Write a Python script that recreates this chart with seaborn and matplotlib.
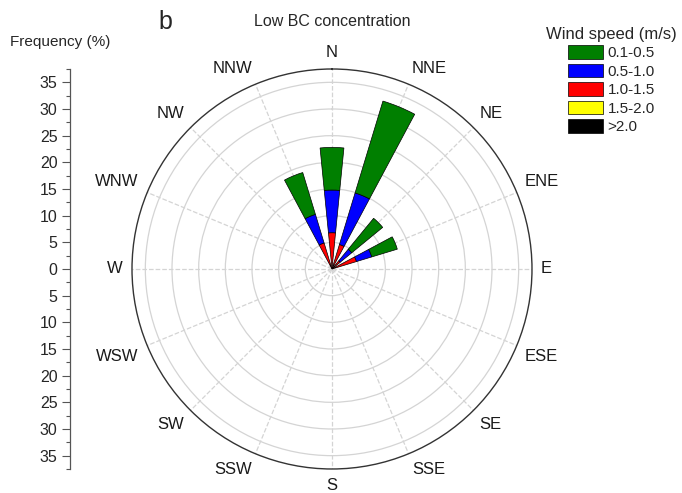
import numpy as np
import matplotlib
matplotlib.use("Agg")
import matplotlib.pyplot as plt
import seaborn as sns
from matplotlib.patches import Patch

# Wind rose data (frequency %, per speed bin)
directions = ["N", "NNE", "NE", "ENE", "E", "ESE", "SE", "SSE",
              "S", "SSW", "SW", "WSW", "W", "WNW", "NW", "NNW"]
speed_bins = ["0.1-0.5", "0.5-1.0", "1.0-1.5", "1.5-2.0", ">2.0"]
bin_colors = ["#007f00", "#0000ff", "#ff0000", "#ffff00", "#000000"]

freq_01_05 = [8.0, 18.0, 7.5, 5.0, 0, 0, 0, 0, 0, 0, 0, 0, 0, 0, 0, 8.2]
freq_05_10 = [8.0, 10.1, 2.8, 3.0, 0, 0, 0, 0, 0, 0, 0, 0, 0, 0, 0, 5.6]
freq_10_15 = [6.8, 4.8, 2.0, 4.8, 0, 0, 0, 0, 0, 0, 0, 0, 0, 0, 0, 5.1]
freq_15_20 = [0, 0, 0, 0, 0, 0, 0, 0, 0, 0, 0, 0, 0, 0, 0, 0]
freq_gt_20 = [0, 0, 0, 0, 0, 0, 0, 0, 0, 0, 0, 0, 0, 0, 0, 0]

freq_ticks = [35, 30, 25, 20, 15, 10, 5, 0, 5, 10, 15, 20, 25, 30, 35]

sns.set_theme(style="white")
plt.rcParams['font.family'] = ['Liberation Sans', 'DejaVu Sans']

fig = plt.figure(figsize=(6.82, 4.93), dpi=100)

# Polar axes for the rose (center ~ (332, 269) px, radius 200 px)
ax = fig.add_axes([0.19355, 0.04868, 0.5865, 0.8114], projection="polar")
ax.set_theta_zero_location("N")
ax.set_theta_direction(-1)

angles = np.deg2rad(np.arange(16) * 22.5)
width = np.deg2rad(11.25)

# stack from the center outwards: >2.0, 1.5-2.0, 1.0-1.5, 0.5-1.0, 0.1-0.5
series = [freq_01_05, freq_05_10, freq_10_15, freq_15_20, freq_gt_20]
bottom = np.zeros(16)
for i in [4, 3, 2, 1, 0]:
    vals = np.array(series[i], dtype=float)
    ax.bar(angles, vals, width=width, bottom=bottom, color=bin_colors[i],
           edgecolor="black", linewidth=0.5, zorder=3)
    bottom += vals

rmax = 37.5
ax.set_rlim(0, rmax)
ax.set_yticks(np.arange(5, 40, 5))
ax.set_yticklabels([])
ax.yaxis.grid(True, color="#d4d4d4", linestyle="-", linewidth=0.9)
ax.set_xticks(angles)
ax.set_xticklabels([])
ax.set_xticks(angles + np.deg2rad(11.25), minor=True)
ax.xaxis.grid(True, color="#d4d4d4", linestyle="--", linewidth=0.9)
ax.tick_params(axis="x", which="major", direction="in", length=5, width=0.8,
               color="#333333")
ax.tick_params(axis="x", which="minor", direction="in", length=3, width=0.8,
               color="#333333")
ax.spines["polar"].set_color("#333333")
ax.spines["polar"].set_linewidth(1.0)

# direction labels anchored by their inner edge just outside the circle
for ang, lab in zip(angles, directions):
    s, c = np.sin(ang), np.cos(ang)
    ha = "left" if s > 0.1 else ("right" if s < -0.1 else "center")
    va = "bottom" if c > 0.1 else ("top" if c < -0.1 else "center")
    ax.text(ang, rmax * 1.045, lab, fontsize=12, ha=ha, va=va,
            clip_on=False, color="#1a1a1a")

# Linear frequency scale at the left
lax = fig.add_axes([70 / 682, 0.04868, 0.001, 0.8114])
lax.set_ylim(-37.5, 37.5)
lax.set_xticks([])
lax.set_yticks(np.arange(35, -40, -5))
lax.set_yticklabels(freq_ticks, fontsize=11.5)
lax.set_yticks(np.arange(-37.5, 40, 2.5), minor=True)
lax.tick_params(axis="y", which="major", direction="out", length=6,
                width=0.8, color="#555555", left=True, pad=3)
lax.tick_params(axis="y", which="minor", direction="out", length=3,
                width=0.8, color="#555555", left=True)
sns.despine(ax=lax, top=True, right=True, bottom=True)
lax.spines["left"].set_color("#555555")
lax.spines["left"].set_linewidth(0.9)
lax.patch.set_alpha(0)

fig.text(10 / 682, 1 - 42 / 493, "Frequency (%)", fontsize=11,
         ha="left", va="center")
fig.text(165 / 682, 1 - 22 / 493, "b", fontsize=18, ha="center", va="center")
fig.text(332 / 682, 1 - 22 / 493, "Low BC concentration", fontsize=11.5,
         ha="center", va="center")

handles = [Patch(facecolor=c, edgecolor="black", linewidth=0.5) for c in bin_colors]
fig.legend(handles, speed_bins, title="Wind speed (m/s)", loc="upper left",
           bbox_to_anchor=(546 / 682, 1 - 27 / 493), frameon=False,
           fontsize=11, title_fontsize=12, handlelength=2.3,
           handleheight=1.0, labelspacing=0.22, handletextpad=0.3,
           borderaxespad=0, borderpad=0)

fig.savefig("out.png", dpi=100)
